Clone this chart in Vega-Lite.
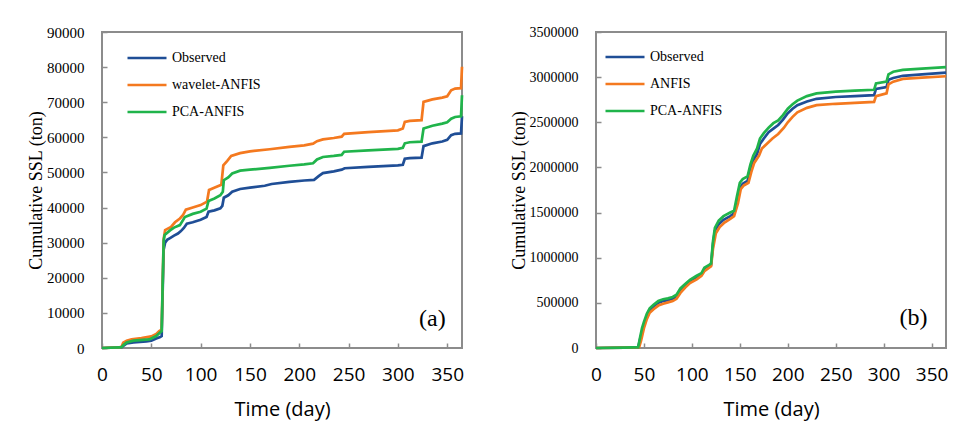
{
  "$schema": "https://vega.github.io/schema/vega-lite/v6.json",
  "background": "white",
  "padding": {"left": 26, "top": 24, "right": 0, "bottom": 0},
  "spacing": 40,
  "datasets": {
    "a": [
      {"series":"Observed","day":0,"ssl":0},{"series":"Observed","day":18,"ssl":150},{"series":"Observed","day":20,"ssl":250},{"series":"Observed","day":22,"ssl":700},{"series":"Observed","day":25,"ssl":1300},{"series":"Observed","day":32,"ssl":1600},{"series":"Observed","day":45,"ssl":1900},{"series":"Observed","day":50,"ssl":2100},{"series":"Observed","day":55,"ssl":2700},{"series":"Observed","day":59,"ssl":3100},{"series":"Observed","day":60.5,"ssl":3400},{"series":"Observed","day":61.5,"ssl":16000},{"series":"Observed","day":62.5,"ssl":28000},{"series":"Observed","day":64,"ssl":30000},{"series":"Observed","day":66,"ssl":30800},{"series":"Observed","day":69,"ssl":31300},{"series":"Observed","day":73,"ssl":32000},{"series":"Observed","day":77,"ssl":32600},{"series":"Observed","day":80,"ssl":33300},{"series":"Observed","day":83,"ssl":34200},{"series":"Observed","day":86,"ssl":35400},{"series":"Observed","day":92,"ssl":35800},{"series":"Observed","day":100,"ssl":36500},{"series":"Observed","day":106,"ssl":37300},{"series":"Observed","day":108,"ssl":38800},{"series":"Observed","day":114,"ssl":39200},{"series":"Observed","day":120,"ssl":39800},{"series":"Observed","day":122,"ssl":40500},{"series":"Observed","day":123.5,"ssl":42800},{"series":"Observed","day":128,"ssl":43500},{"series":"Observed","day":132,"ssl":44500},{"series":"Observed","day":140,"ssl":45300},{"series":"Observed","day":150,"ssl":45700},{"series":"Observed","day":165,"ssl":46200},{"series":"Observed","day":172,"ssl":46700},{"series":"Observed","day":190,"ssl":47300},{"series":"Observed","day":205,"ssl":47700},{"series":"Observed","day":215,"ssl":47900},{"series":"Observed","day":220,"ssl":49000},{"series":"Observed","day":224,"ssl":49800},{"series":"Observed","day":235,"ssl":50300},{"series":"Observed","day":243,"ssl":50800},{"series":"Observed","day":246,"ssl":51200},{"series":"Observed","day":270,"ssl":51600},{"series":"Observed","day":300,"ssl":52000},{"series":"Observed","day":305,"ssl":52200},{"series":"Observed","day":307,"ssl":53900},{"series":"Observed","day":312,"ssl":54100},{"series":"Observed","day":324,"ssl":54200},{"series":"Observed","day":326,"ssl":57500},{"series":"Observed","day":335,"ssl":58300},{"series":"Observed","day":345,"ssl":58800},{"series":"Observed","day":350,"ssl":59300},{"series":"Observed","day":354,"ssl":60600},{"series":"Observed","day":358,"ssl":61000},{"series":"Observed","day":364,"ssl":61100},{"series":"Observed","day":365,"ssl":66000},
      {"series":"wavelet-ANFIS","day":0,"ssl":0},{"series":"wavelet-ANFIS","day":18,"ssl":200},{"series":"wavelet-ANFIS","day":20,"ssl":400},{"series":"wavelet-ANFIS","day":21.5,"ssl":1500},{"series":"wavelet-ANFIS","day":25,"ssl":2100},{"series":"wavelet-ANFIS","day":30,"ssl":2500},{"series":"wavelet-ANFIS","day":40,"ssl":2800},{"series":"wavelet-ANFIS","day":50,"ssl":3300},{"series":"wavelet-ANFIS","day":55,"ssl":4000},{"series":"wavelet-ANFIS","day":58,"ssl":4800},{"series":"wavelet-ANFIS","day":60.5,"ssl":5200},{"series":"wavelet-ANFIS","day":61.5,"ssl":18000},{"series":"wavelet-ANFIS","day":62.5,"ssl":31000},{"series":"wavelet-ANFIS","day":64,"ssl":33600},{"series":"wavelet-ANFIS","day":70,"ssl":34500},{"series":"wavelet-ANFIS","day":74,"ssl":35800},{"series":"wavelet-ANFIS","day":79,"ssl":36900},{"series":"wavelet-ANFIS","day":82,"ssl":37800},{"series":"wavelet-ANFIS","day":85,"ssl":39400},{"series":"wavelet-ANFIS","day":92,"ssl":40000},{"series":"wavelet-ANFIS","day":100,"ssl":40700},{"series":"wavelet-ANFIS","day":106.5,"ssl":41700},{"series":"wavelet-ANFIS","day":108.5,"ssl":45000},{"series":"wavelet-ANFIS","day":115,"ssl":45800},{"series":"wavelet-ANFIS","day":121,"ssl":46500},{"series":"wavelet-ANFIS","day":123,"ssl":52000},{"series":"wavelet-ANFIS","day":127,"ssl":53300},{"series":"wavelet-ANFIS","day":131,"ssl":54700},{"series":"wavelet-ANFIS","day":140,"ssl":55500},{"series":"wavelet-ANFIS","day":150,"ssl":56000},{"series":"wavelet-ANFIS","day":170,"ssl":56600},{"series":"wavelet-ANFIS","day":190,"ssl":57300},{"series":"wavelet-ANFIS","day":205,"ssl":57700},{"series":"wavelet-ANFIS","day":214,"ssl":58200},{"series":"wavelet-ANFIS","day":218,"ssl":58900},{"series":"wavelet-ANFIS","day":224,"ssl":59400},{"series":"wavelet-ANFIS","day":235,"ssl":59800},{"series":"wavelet-ANFIS","day":243,"ssl":60200},{"series":"wavelet-ANFIS","day":245.5,"ssl":61000},{"series":"wavelet-ANFIS","day":270,"ssl":61500},{"series":"wavelet-ANFIS","day":300,"ssl":62000},{"series":"wavelet-ANFIS","day":305,"ssl":62500},{"series":"wavelet-ANFIS","day":307,"ssl":64400},{"series":"wavelet-ANFIS","day":312,"ssl":64700},{"series":"wavelet-ANFIS","day":324,"ssl":64900},{"series":"wavelet-ANFIS","day":326,"ssl":70100},{"series":"wavelet-ANFIS","day":335,"ssl":70800},{"series":"wavelet-ANFIS","day":345,"ssl":71300},{"series":"wavelet-ANFIS","day":350,"ssl":71700},{"series":"wavelet-ANFIS","day":354,"ssl":73400},{"series":"wavelet-ANFIS","day":358,"ssl":73900},{"series":"wavelet-ANFIS","day":364,"ssl":74000},{"series":"wavelet-ANFIS","day":365,"ssl":80100},
      {"series":"PCA-ANFIS","day":0,"ssl":0},{"series":"PCA-ANFIS","day":18,"ssl":150},{"series":"PCA-ANFIS","day":20,"ssl":300},{"series":"PCA-ANFIS","day":22,"ssl":900},{"series":"PCA-ANFIS","day":25,"ssl":1600},{"series":"PCA-ANFIS","day":32,"ssl":2100},{"series":"PCA-ANFIS","day":48,"ssl":2450},{"series":"PCA-ANFIS","day":55,"ssl":3400},{"series":"PCA-ANFIS","day":58,"ssl":4200},{"series":"PCA-ANFIS","day":60.5,"ssl":4800},{"series":"PCA-ANFIS","day":61.5,"ssl":18000},{"series":"PCA-ANFIS","day":62.5,"ssl":30500},{"series":"PCA-ANFIS","day":63.5,"ssl":32200},{"series":"PCA-ANFIS","day":69,"ssl":33500},{"series":"PCA-ANFIS","day":73,"ssl":34300},{"series":"PCA-ANFIS","day":79,"ssl":35000},{"series":"PCA-ANFIS","day":84,"ssl":37300},{"series":"PCA-ANFIS","day":92,"ssl":38200},{"series":"PCA-ANFIS","day":100,"ssl":38800},{"series":"PCA-ANFIS","day":106,"ssl":39700},{"series":"PCA-ANFIS","day":108,"ssl":41900},{"series":"PCA-ANFIS","day":114,"ssl":42600},{"series":"PCA-ANFIS","day":120,"ssl":43500},{"series":"PCA-ANFIS","day":122.5,"ssl":44500},{"series":"PCA-ANFIS","day":123.5,"ssl":47800},{"series":"PCA-ANFIS","day":128,"ssl":48600},{"series":"PCA-ANFIS","day":132,"ssl":49700},{"series":"PCA-ANFIS","day":140,"ssl":50500},{"series":"PCA-ANFIS","day":150,"ssl":50800},{"series":"PCA-ANFIS","day":170,"ssl":51300},{"series":"PCA-ANFIS","day":190,"ssl":51900},{"series":"PCA-ANFIS","day":205,"ssl":52300},{"series":"PCA-ANFIS","day":214,"ssl":52600},{"series":"PCA-ANFIS","day":218,"ssl":53700},{"series":"PCA-ANFIS","day":224,"ssl":54400},{"series":"PCA-ANFIS","day":235,"ssl":54700},{"series":"PCA-ANFIS","day":243,"ssl":55000},{"series":"PCA-ANFIS","day":245.5,"ssl":55900},{"series":"PCA-ANFIS","day":270,"ssl":56300},{"series":"PCA-ANFIS","day":300,"ssl":56700},{"series":"PCA-ANFIS","day":305,"ssl":57000},{"series":"PCA-ANFIS","day":307,"ssl":58300},{"series":"PCA-ANFIS","day":312,"ssl":58600},{"series":"PCA-ANFIS","day":324,"ssl":58750},{"series":"PCA-ANFIS","day":326,"ssl":62500},{"series":"PCA-ANFIS","day":335,"ssl":63300},{"series":"PCA-ANFIS","day":345,"ssl":63900},{"series":"PCA-ANFIS","day":350,"ssl":64300},{"series":"PCA-ANFIS","day":354,"ssl":65300},{"series":"PCA-ANFIS","day":358,"ssl":65800},{"series":"PCA-ANFIS","day":364,"ssl":66000},{"series":"PCA-ANFIS","day":365,"ssl":72000}
    ],
    "b": [
      {"series":"Observed","day":0,"ssl":0},{"series":"Observed","day":30,"ssl":5000},{"series":"Observed","day":44,"ssl":10000},{"series":"Observed","day":46,"ssl":100000},{"series":"Observed","day":48,"ssl":180000},{"series":"Observed","day":50,"ssl":260000},{"series":"Observed","day":53,"ssl":350000},{"series":"Observed","day":56,"ssl":420000},{"series":"Observed","day":60,"ssl":460000},{"series":"Observed","day":65,"ssl":500000},{"series":"Observed","day":70,"ssl":520000},{"series":"Observed","day":75,"ssl":530000},{"series":"Observed","day":80,"ssl":545000},{"series":"Observed","day":84,"ssl":570000},{"series":"Observed","day":88,"ssl":640000},{"series":"Observed","day":93,"ssl":690000},{"series":"Observed","day":98,"ssl":740000},{"series":"Observed","day":105,"ssl":780000},{"series":"Observed","day":110,"ssl":810000},{"series":"Observed","day":113,"ssl":870000},{"series":"Observed","day":118,"ssl":905000},{"series":"Observed","day":120,"ssl":920000},{"series":"Observed","day":122,"ssl":1150000},{"series":"Observed","day":124,"ssl":1300000},{"series":"Observed","day":128,"ssl":1370000},{"series":"Observed","day":133,"ssl":1420000},{"series":"Observed","day":140,"ssl":1460000},{"series":"Observed","day":144,"ssl":1490000},{"series":"Observed","day":147,"ssl":1620000},{"series":"Observed","day":150,"ssl":1770000},{"series":"Observed","day":153,"ssl":1820000},{"series":"Observed","day":158,"ssl":1850000},{"series":"Observed","day":161,"ssl":1980000},{"series":"Observed","day":164,"ssl":2080000},{"series":"Observed","day":168,"ssl":2150000},{"series":"Observed","day":171,"ssl":2260000},{"series":"Observed","day":175,"ssl":2320000},{"series":"Observed","day":180,"ssl":2390000},{"series":"Observed","day":185,"ssl":2430000},{"series":"Observed","day":190,"ssl":2470000},{"series":"Observed","day":195,"ssl":2530000},{"series":"Observed","day":200,"ssl":2600000},{"series":"Observed","day":205,"ssl":2650000},{"series":"Observed","day":210,"ssl":2690000},{"series":"Observed","day":220,"ssl":2730000},{"series":"Observed","day":230,"ssl":2760000},{"series":"Observed","day":250,"ssl":2780000},{"series":"Observed","day":270,"ssl":2790000},{"series":"Observed","day":290,"ssl":2800000},{"series":"Observed","day":292,"ssl":2870000},{"series":"Observed","day":303,"ssl":2890000},{"series":"Observed","day":305,"ssl":2970000},{"series":"Observed","day":310,"ssl":2990000},{"series":"Observed","day":320,"ssl":3015000},{"series":"Observed","day":340,"ssl":3030000},{"series":"Observed","day":365,"ssl":3050000},
      {"series":"ANFIS","day":0,"ssl":0},{"series":"ANFIS","day":30,"ssl":5000},{"series":"ANFIS","day":45,"ssl":10000},{"series":"ANFIS","day":47,"ssl":80000},{"series":"ANFIS","day":50,"ssl":220000},{"series":"ANFIS","day":53,"ssl":320000},{"series":"ANFIS","day":56,"ssl":390000},{"series":"ANFIS","day":60,"ssl":430000},{"series":"ANFIS","day":65,"ssl":470000},{"series":"ANFIS","day":70,"ssl":490000},{"series":"ANFIS","day":75,"ssl":505000},{"series":"ANFIS","day":80,"ssl":520000},{"series":"ANFIS","day":84,"ssl":545000},{"series":"ANFIS","day":88,"ssl":610000},{"series":"ANFIS","day":93,"ssl":670000},{"series":"ANFIS","day":98,"ssl":720000},{"series":"ANFIS","day":105,"ssl":760000},{"series":"ANFIS","day":110,"ssl":800000},{"series":"ANFIS","day":113,"ssl":850000},{"series":"ANFIS","day":118,"ssl":890000},{"series":"ANFIS","day":120,"ssl":905000},{"series":"ANFIS","day":122,"ssl":1100000},{"series":"ANFIS","day":125,"ssl":1270000},{"series":"ANFIS","day":129,"ssl":1340000},{"series":"ANFIS","day":134,"ssl":1390000},{"series":"ANFIS","day":140,"ssl":1430000},{"series":"ANFIS","day":144,"ssl":1460000},{"series":"ANFIS","day":148,"ssl":1600000},{"series":"ANFIS","day":151,"ssl":1760000},{"series":"ANFIS","day":154,"ssl":1800000},{"series":"ANFIS","day":159,"ssl":1830000},{"series":"ANFIS","day":162,"ssl":1950000},{"series":"ANFIS","day":165,"ssl":2050000},{"series":"ANFIS","day":170,"ssl":2130000},{"series":"ANFIS","day":173,"ssl":2210000},{"series":"ANFIS","day":178,"ssl":2260000},{"series":"ANFIS","day":184,"ssl":2320000},{"series":"ANFIS","day":190,"ssl":2370000},{"series":"ANFIS","day":196,"ssl":2440000},{"series":"ANFIS","day":200,"ssl":2500000},{"series":"ANFIS","day":205,"ssl":2560000},{"series":"ANFIS","day":210,"ssl":2610000},{"series":"ANFIS","day":220,"ssl":2660000},{"series":"ANFIS","day":230,"ssl":2690000},{"series":"ANFIS","day":250,"ssl":2705000},{"series":"ANFIS","day":270,"ssl":2715000},{"series":"ANFIS","day":290,"ssl":2725000},{"series":"ANFIS","day":292,"ssl":2790000},{"series":"ANFIS","day":303,"ssl":2820000},{"series":"ANFIS","day":305,"ssl":2920000},{"series":"ANFIS","day":310,"ssl":2950000},{"series":"ANFIS","day":320,"ssl":2980000},{"series":"ANFIS","day":340,"ssl":2995000},{"series":"ANFIS","day":365,"ssl":3010000},
      {"series":"PCA-ANFIS","day":0,"ssl":0},{"series":"PCA-ANFIS","day":30,"ssl":5000},{"series":"PCA-ANFIS","day":44,"ssl":10000},{"series":"PCA-ANFIS","day":46,"ssl":120000},{"series":"PCA-ANFIS","day":48,"ssl":220000},{"series":"PCA-ANFIS","day":50,"ssl":290000},{"series":"PCA-ANFIS","day":53,"ssl":380000},{"series":"PCA-ANFIS","day":56,"ssl":440000},{"series":"PCA-ANFIS","day":60,"ssl":480000},{"series":"PCA-ANFIS","day":65,"ssl":520000},{"series":"PCA-ANFIS","day":70,"ssl":540000},{"series":"PCA-ANFIS","day":75,"ssl":550000},{"series":"PCA-ANFIS","day":80,"ssl":565000},{"series":"PCA-ANFIS","day":84,"ssl":590000},{"series":"PCA-ANFIS","day":88,"ssl":660000},{"series":"PCA-ANFIS","day":93,"ssl":710000},{"series":"PCA-ANFIS","day":98,"ssl":755000},{"series":"PCA-ANFIS","day":105,"ssl":800000},{"series":"PCA-ANFIS","day":110,"ssl":830000},{"series":"PCA-ANFIS","day":113,"ssl":890000},{"series":"PCA-ANFIS","day":118,"ssl":920000},{"series":"PCA-ANFIS","day":120,"ssl":935000},{"series":"PCA-ANFIS","day":122,"ssl":1180000},{"series":"PCA-ANFIS","day":124,"ssl":1330000},{"series":"PCA-ANFIS","day":128,"ssl":1410000},{"series":"PCA-ANFIS","day":133,"ssl":1460000},{"series":"PCA-ANFIS","day":140,"ssl":1500000},{"series":"PCA-ANFIS","day":144,"ssl":1520000},{"series":"PCA-ANFIS","day":147,"ssl":1680000},{"series":"PCA-ANFIS","day":150,"ssl":1830000},{"series":"PCA-ANFIS","day":153,"ssl":1870000},{"series":"PCA-ANFIS","day":158,"ssl":1900000},{"series":"PCA-ANFIS","day":161,"ssl":2030000},{"series":"PCA-ANFIS","day":164,"ssl":2130000},{"series":"PCA-ANFIS","day":168,"ssl":2210000},{"series":"PCA-ANFIS","day":171,"ssl":2320000},{"series":"PCA-ANFIS","day":175,"ssl":2380000},{"series":"PCA-ANFIS","day":180,"ssl":2440000},{"series":"PCA-ANFIS","day":185,"ssl":2490000},{"series":"PCA-ANFIS","day":190,"ssl":2520000},{"series":"PCA-ANFIS","day":195,"ssl":2580000},{"series":"PCA-ANFIS","day":200,"ssl":2650000},{"series":"PCA-ANFIS","day":205,"ssl":2700000},{"series":"PCA-ANFIS","day":210,"ssl":2740000},{"series":"PCA-ANFIS","day":220,"ssl":2790000},{"series":"PCA-ANFIS","day":230,"ssl":2820000},{"series":"PCA-ANFIS","day":250,"ssl":2840000},{"series":"PCA-ANFIS","day":270,"ssl":2850000},{"series":"PCA-ANFIS","day":290,"ssl":2860000},{"series":"PCA-ANFIS","day":292,"ssl":2930000},{"series":"PCA-ANFIS","day":303,"ssl":2950000},{"series":"PCA-ANFIS","day":305,"ssl":3030000},{"series":"PCA-ANFIS","day":310,"ssl":3060000},{"series":"PCA-ANFIS","day":320,"ssl":3080000},{"series":"PCA-ANFIS","day":340,"ssl":3095000},{"series":"PCA-ANFIS","day":365,"ssl":3110000}
    ]
  },
  "hconcat": [
    {
      "width": 360,
      "height": 316,
      "encoding": {
        "x": {"field": "day", "type": "quantitative", "scale": {"domain": [0, 365], "nice": false, "zero": false}, "axis": {"values": [0, 50, 100, 150, 200, 250, 300, 350], "title": "Time (day)", "labelFont": "Open Sans", "titleFont": "Open Sans", "labelFontSize": 19, "titleFontSize": 20}},
        "y": {"field": "ssl", "type": "quantitative", "scale": {"domain": [0, 90000], "nice": false}, "axis": {"values": [0, 10000, 20000, 30000, 40000, 50000, 60000, 70000, 80000, 90000], "format": "d", "title": "Cumulative SSL (ton)", "labelFontSize": 15, "labelFont": "Liberation Serif", "titleFont": "Liberation Serif", "titleFontSize": 18}}
      },
      "layer": [
        {
          "data": {"name": "a"},
          "mark": {"type": "line", "strokeWidth": 2.7},
          "encoding": {
            "color": {"field": "series", "type": "nominal", "sort": null, "scale": {"domain": ["Observed", "wavelet-ANFIS", "PCA-ANFIS"], "range": ["#1f4e96", "#f4791f", "#20b44b"]}, "legend": {"orient": "none", "legendX": 37, "legendY": 18}}
          }
        },
        {
          "data": {"values": [{"label": "(a)", "day": 335, "ssl": 8300}]},
          "mark": {"type": "text", "font": "Liberation Serif", "fontSize": 24, "align": "center", "baseline": "middle", "color": "black"},
          "encoding": {"text": {"field": "label"}}
        }
      ]
    },
    {
      "width": 350,
      "height": 316,
      "encoding": {
        "x": {"field": "day", "type": "quantitative", "scale": {"domain": [0, 365], "nice": false, "zero": false}, "axis": {"values": [0, 50, 100, 150, 200, 250, 300, 350], "title": "Time (day)", "labelFont": "Open Sans", "titleFont": "Open Sans", "labelFontSize": 19, "titleFontSize": 20}},
        "y": {"field": "ssl", "type": "quantitative", "scale": {"domain": [0, 3500000], "nice": false}, "axis": {"values": [0, 500000, 1000000, 1500000, 2000000, 2500000, 3000000, 3500000], "format": "d", "title": "Cumulative SSL (ton)", "labelFontSize": 14, "labelFont": "Liberation Serif", "titleFont": "Liberation Serif", "titleFontSize": 18}}
      },
      "layer": [
        {
          "data": {"name": "b"},
          "mark": {"type": "line", "strokeWidth": 2.7},
          "encoding": {
            "color": {"field": "series", "type": "nominal", "sort": null, "scale": {"domain": ["Observed", "ANFIS", "PCA-ANFIS"], "range": ["#1f4e96", "#f4791f", "#20b44b"]}, "legend": {"orient": "none", "legendX": 21, "legendY": 17}}
          }
        },
        {
          "data": {"values": [{"label": "(b)", "day": 331, "ssl": 335000}]},
          "mark": {"type": "text", "font": "Liberation Serif", "fontSize": 24, "align": "center", "baseline": "middle", "color": "black"},
          "encoding": {"text": {"field": "label"}}
        }
      ]
    }
  ],
  "resolve": {"scale": {"color": "independent"}, "legend": {"color": "independent"}},
  "config": {
    "view": {"stroke": "#8c8c8c", "strokeWidth": 2},
    "axis": {"domain": false, "grid": false, "ticks": true, "tickSize": -5, "tickColor": "#8c8c8c", "tickWidth": 1.5, "labelColor": "#000000", "titleColor": "#000000", "titleFontWeight": "normal", "labelOverlap": false},
    "axisX": {"labelPadding": 22.5, "titlePadding": 15, "labelFlush": false, "titleFont": "Open Sans", "labelFont": "Open Sans"},
    "axisY": {"labelPadding": 23, "titlePadding": 1, "titleFont": "Liberation Serif", "labelFont": "Liberation Serif"},
    "legend": {"title": null, "symbolType": "M-3,0H3", "symbolSize": 169, "symbolStrokeWidth": 2.7, "labelFont": "Liberation Serif", "labelFontSize": 14, "labelColor": "#000000", "labelOffset": 17, "rowPadding": 12, "padding": 0}
  }
}
